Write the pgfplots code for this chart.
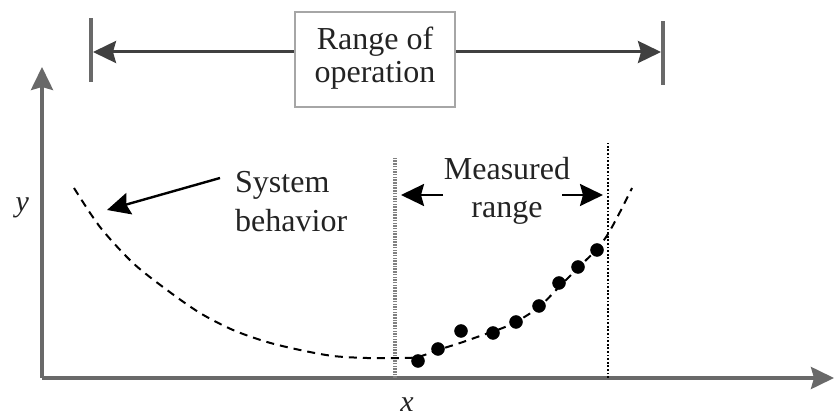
\documentclass[border=0pt]{standalone}
\usepackage{pgfplots}
\pgfplotsset{compat=1.18}
\usepackage{fontspec}
\setmainfont{Liberation Serif}
\usetikzlibrary{arrows.meta}
\definecolor{axgray}{RGB}{105,105,105}
\definecolor{txt}{RGB}{35,35,35}
\tikzset{hd/.style={-{Stealth[length=23pt,width=22pt,inset=3pt]}}}
\pgfplotstableread{
x y
74 232
100 193
133 157
167 130
200 107
233 90
267 78
300 70
333 64
367 62
400 62
418 63
438 70
460 77
480 84
500 91
516 98
539 113
560 134
580 154
597 171
608 186
620 208
632 232
}\curve
\pgfplotstableread{
x y
418 59
438 71
461 89
493 87
516 98
539 114
559 137
578 153
597 170
}\dots
\begin{document}
\begin{tikzpicture}
\begin{axis}[
  width=792pt, height=311pt, scale only axis,
  xmin=42, xmax=834, ymin=42, ymax=353,
  axis x line=bottom, axis y line=left,
  axis line style={axgray, line width=3.5pt, hd},
  ticks=none, clip=false,
  xlabel={\fontsize{30}{32}\selectfont\textit{x}},
  ylabel={\fontsize{30}{32}\selectfont\textit{y}},
  xlabel style={at={(axis description cs:0.461,-0.087)}, anchor=center, inner sep=0pt, text=txt},
  ylabel style={at={(axis description cs:-0.025,0.547)}, anchor=center, rotate=-90, text=txt},
]
\path (axis cs:0,0) -- (axis cs:836,420);
% measured / operating lines
\draw[black!50, line width=3.5pt, dash pattern=on 1.5pt off 1.2pt] (axis cs:395,42) -- (axis cs:395,263);
\draw[black, line width=1.8pt, dash pattern=on 1.8pt off 1.8pt] (axis cs:608,42) -- (axis cs:608,277);
% system behaviour curve
\addplot[black, line width=2pt, dash pattern=on 8pt off 6pt, smooth, tension=0.5] table {\curve};
% measured points
\addplot[only marks, mark=*, mark size=6.5pt, black] table {\dots};
% range of operation
\draw[axgray, line width=3.2pt] (axis cs:91,338) -- (axis cs:91,402);
\draw[axgray, line width=3.2pt] (axis cs:663,335) -- (axis cs:663,399);
\draw[black!75, line width=3pt, hd] (axis cs:295,368) -- (axis cs:93,368);
\draw[black!75, line width=3pt, hd] (axis cs:455,368) -- (axis cs:661,368);
\draw[black!35, line width=1.6pt] (axis cs:295,313) rectangle (axis cs:455,408);
\node[anchor=base, text=txt, font=\fontsize{32}{36}\selectfont] at (axis cs:375,370) {Range of};
\node[anchor=base, text=txt, font=\fontsize{32}{36}\selectfont] at (axis cs:375,337) {operation};
% system behaviour label
\node[anchor=base west, text=txt, font=\fontsize{32}{36}\selectfont, inner sep=0pt] at (axis cs:235,227) {System};
\node[anchor=base west, text=txt, font=\fontsize{32}{36}\selectfont, inner sep=0pt] at (axis cs:235,188) {behavior};
\draw[black, line width=2.4pt, hd] (axis cs:220,242) -- (axis cs:107,210);
% measured range label
\node[anchor=base, text=txt, font=\fontsize{32}{36}\selectfont] at (axis cs:507,240) {Measured};
\node[anchor=base, text=txt, font=\fontsize{32}{36}\selectfont] at (axis cs:507,202) {range};
\draw[black, line width=2.4pt, hd] (axis cs:443,225) -- (axis cs:401,225);
\draw[black, line width=2.4pt, hd] (axis cs:562,225) -- (axis cs:603,225);
\end{axis}
\end{tikzpicture}
\end{document}
